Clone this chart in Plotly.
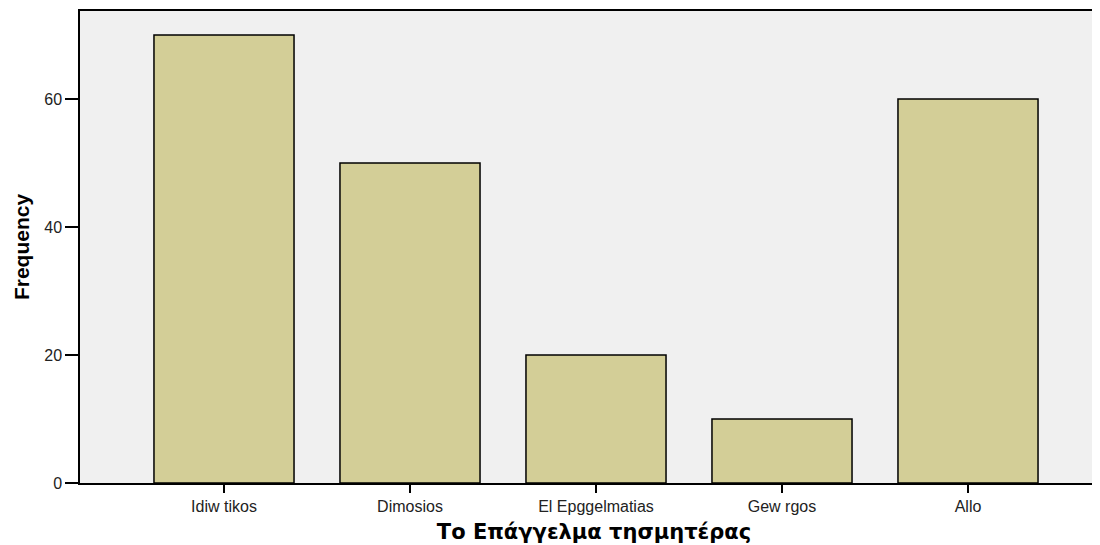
import plotly.graph_objects as go

categories = ["Idiw tikos", "Dimosios", "El Epggelmatias", "Gew rgos", "Allo"]
frequency = [70, 50, 20, 10, 60]
y_ticks = [0, 20, 40, 60]

fig = go.Figure(
    data=[
        go.Bar(
            x=list(range(len(categories))),
            y=frequency,
            width=0.753,
            marker=dict(color="#D3CE97", line=dict(color="#000000", width=1.5)),
            hoverinfo="y",
        )
    ]
)

# the page body adds 8px on the left and top, so margins are shifted
fig.update_layout(
    width=1100,
    height=537,
    margin=dict(l=72, r=0, t=3, b=62),
    paper_bgcolor="white",
    plot_bgcolor="#F0F0F0",
    showlegend=False,
    font=dict(family="Liberation Sans, Arial, sans-serif", color="#111111"),
)

fig.update_xaxes(
    range=[-0.7742, 4.7527],
    tickmode="array",
    tickvals=list(range(len(categories))),
    ticktext=categories,
    ticks="outside",
    ticklen=8,
    tickwidth=1.5,
    tickcolor="black",
    tickfont=dict(size=16, color="#222222"),
    showline=True,
    linecolor="black",
    linewidth=1.5,
    mirror=True,
    showgrid=False,
    zeroline=False,
    title=dict(
        text="<b>Το Επάγγελμα τησμητέρας</b>",
        font=dict(family="DejaVu Sans, sans-serif", size=21, color="black"),
        standoff=10,
    ),
)

fig.update_yaxes(
    range=[0, 73.75],
    tickmode="array",
    tickvals=y_ticks,
    ticks="outside",
    ticklen=13,
    tickwidth=1.5,
    tickcolor="black",
    tickfont=dict(size=16, color="#222222"),
    showline=True,
    linecolor="black",
    linewidth=1.5,
    showgrid=False,
    zeroline=False,
    title=dict(
        text="<b>Frequency</b>",
        font=dict(family="Liberation Sans Narrow, Arial Narrow, sans-serif", size=21, color="black"),
        standoff=9,
    ),
)

fig.write_html("out.html")
